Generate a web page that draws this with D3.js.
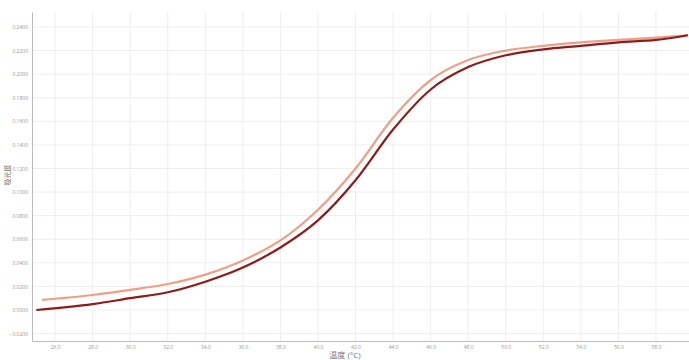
<!DOCTYPE html>
<html><head><meta charset="utf-8">
<script src="https://cdn.jsdelivr.net/npm/d3@7"></script>
<style>body{margin:0;background:#fff}svg{display:block}text{font-family:"Open Sans","Noto Sans CJK SC",sans-serif}</style>
</head><body><svg id="c" width="689" height="360"></svg>
<script>
const temps = [25.0, 28, 30, 32, 34, 36, 38, 40, 42, 44, 46, 48, 50, 52, 54, 56, 58, 59.7];
const sampleA = [0.000, 0.005, 0.010, 0.015, 0.024, 0.036, 0.053, 0.076, 0.110, 0.153, 0.187, 0.206, 0.216, 0.221, 0.224, 0.227, 0.229, 0.233];
const tempsB = [25.3, 28, 30, 32, 34, 36, 38, 40, 42, 44, 46, 48, 50, 52, 54, 56, 58, 59.7];
const sampleB = [0.0085, 0.0127, 0.017, 0.022, 0.030, 0.042, 0.059, 0.085, 0.120, 0.163, 0.195, 0.212, 0.220, 0.224, 0.227, 0.229, 0.231, 0.233];
const xTicks = [26, 28, 30, 32, 34, 36, 38, 40, 42, 44, 46, 48, 50, 52, 54, 56, 58];
const yTicks = [-0.02, 0, 0.02, 0.04, 0.06, 0.08, 0.10, 0.12, 0.14, 0.16, 0.18, 0.20, 0.22, 0.24];
const seriesColors = ["#8e1b1b", "#ee9f88"];

const svg = d3.select("#c");
const W = 689, H = 360;
const m = {l: 32, t: 12, r: 0, b: 19};
const x = d3.scaleLinear().domain([24.77, 59.76]).range([m.l, W - m.r]);
const y = d3.scaleLinear().domain([-0.0263, 0.2527]).range([H - m.b, m.t]);

// grid
svg.append("g").selectAll("line").data(xTicks).join("line")
  .attr("x1", d => x(d)).attr("x2", d => x(d)).attr("y1", m.t).attr("y2", H - m.b)
  .attr("stroke", "#eeeeee").attr("stroke-width", 1);
svg.append("g").selectAll("line").data(yTicks).join("line")
  .attr("x1", m.l).attr("x2", W - m.r).attr("y1", d => y(d)).attr("y2", d => y(d))
  .attr("stroke", "#eeeeee").attr("stroke-width", 1);

// axes
const xa = svg.append("g").attr("transform", `translate(0,${H - m.b})`)
  .call(d3.axisBottom(x).tickValues(xTicks).tickFormat(d3.format(".1f")).tickSize(0).tickPadding(4));
const ya = svg.append("g").attr("transform", `translate(${m.l},0)`)
  .call(d3.axisLeft(y).tickValues(yTicks).tickFormat(d3.format(".4f")).tickSize(0).tickPadding(4));
[xa, ya].forEach(a => {
  a.select(".domain").attr("stroke", "#bbb");
  a.selectAll("text").attr("fill", "#999").attr("font-size", 5);
});

// lines
const line = d3.line().curve(d3.curveMonotoneX);
const series = [
  {t: temps, v: sampleA},
  {t: tempsB, v: sampleB}
];
svg.append("path").datum(series[1]).attr("fill", "none").attr("stroke", seriesColors[1]).attr("stroke-width", 2.2)
  .attr("d", s => line(s.t.map((t, i) => [x(t), y(s.v[i])])));
svg.append("path").datum(series[0]).attr("fill", "none").attr("stroke", seriesColors[0]).attr("stroke-width", 2.2)
  .attr("d", s => line(s.t.map((t, i) => [x(t), y(s.v[i])])));

// labels
svg.append("text").attr("x", 345).attr("y", 358).attr("text-anchor", "middle")
  .attr("font-size", 8).attr("fill", "#777").text("温度 (°C)");
svg.append("text").attr("transform", "translate(10,175) rotate(-90)").attr("text-anchor", "middle")
  .attr("font-size", 7).attr("fill", "#777").text("吸光度");
</script></body></html>
